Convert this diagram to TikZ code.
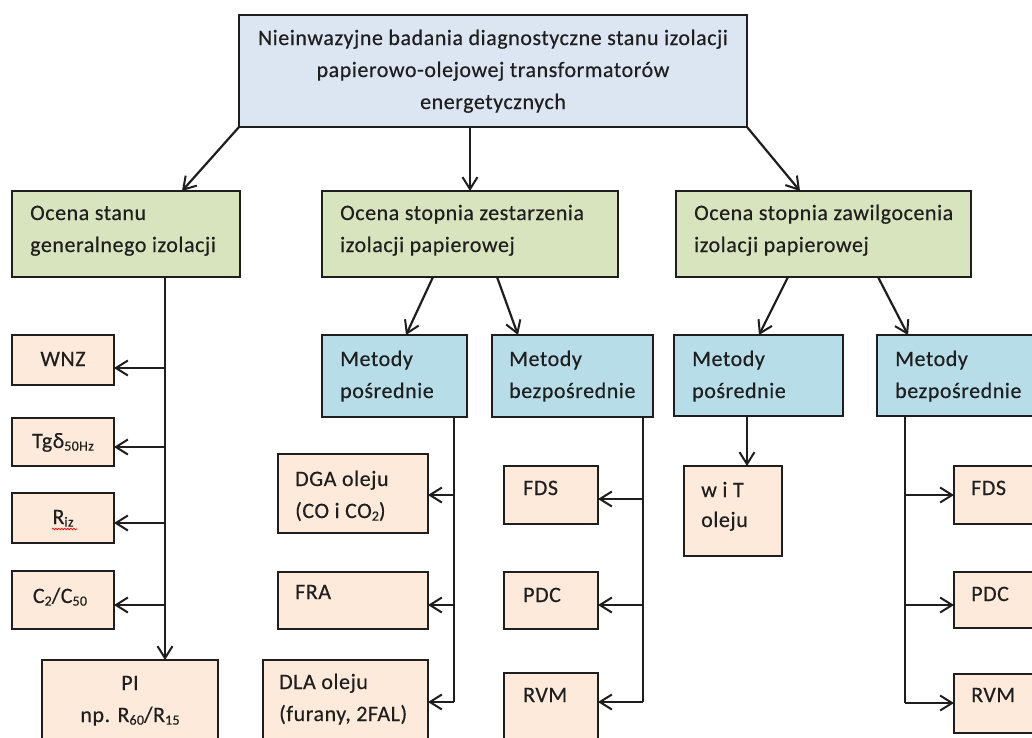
\documentclass[tikz,border=0pt]{standalone}
\usepackage{fontspec}
\setmainfont{Carlito}[LetterSpace=2.5,FakeBold=0.4]
\usetikzlibrary{arrows.meta,calc,decorations.pathmorphing}
\definecolor{topblue}{HTML}{DCE6F2}
\definecolor{cgreen}{HTML}{D7E4BD}
\definecolor{cblue}{HTML}{B7DEE8}
\definecolor{cpeach}{HTML}{FDEADA}
\definecolor{cline}{HTML}{1E1E1E}
\definecolor{ctext}{HTML}{1F1F1F}
\newcommand\dn[1]{\raisebox{-0.25ex}{\fontsize{14}{14}\selectfont #1}}
\begin{document}
\begin{tikzpicture}[x=1pt,y=-1pt,
  box/.style={draw=cline, line width=2.6pt, anchor=north west, inner sep=0pt, outer sep=0pt},
  topbox/.style={box, fill=topblue},
  gbox/.style={box, fill=cgreen},
  bbox/.style={box, fill=cblue},
  pbox/.style={box, fill=cpeach},
  txt/.style={inner sep=0pt, font=\fontsize{22}{32}\selectfont, text=ctext, align=left, anchor=base west},
  ctxt/.style={txt, align=center, anchor=base},
  arr/.style={draw=cline, line width=2.2pt, -{Straight Barb[length=12pt,width=15pt,line width=2pt]}},
  ln/.style={draw=cline, line width=2.2pt}]
\clip (0,0) rectangle (1032,737);
\fill[white] (0,0) rectangle (1032,737);
% boxes
\node[topbox, minimum width=508pt, minimum height=112pt] (top) at (239,15) {};
\node[gbox, minimum width=228pt, minimum height=86pt] (g1) at (12,191) {};
\node[gbox, minimum width=296pt, minimum height=86pt] (g2) at (322,191) {};
\node[gbox, minimum width=295pt, minimum height=86pt] (g3) at (676,191) {};
\node[bbox, minimum width=145pt, minimum height=82pt] (b1) at (322,335) {};
\node[bbox, minimum width=161pt, minimum height=82pt] (b2) at (492,335) {};
\node[bbox, minimum width=169pt, minimum height=81pt] (b3) at (674,335) {};
\node[bbox, minimum width=175pt, minimum height=81pt] (b4) at (877,335) {};
\node[pbox, minimum width=102pt, minimum height=50pt] (wnz) at (12,335) {};
\node[pbox, minimum width=102pt, minimum height=48pt] (tg) at (12,418) {};
\node[pbox, minimum width=102pt, minimum height=50pt] (riz) at (12,493) {};
\node[pbox, minimum width=102pt, minimum height=58pt] (c2) at (12,571) {};
\node[pbox, minimum width=176pt, minimum height=100pt] (pi) at (42,660) {};
\node[pbox, minimum width=150pt, minimum height=79pt] (dga) at (278,454) {};
\node[pbox, minimum width=150pt, minimum height=57pt] (fra) at (278,572) {};
\node[pbox, minimum width=165pt, minimum height=100pt] (dla) at (263,660) {};
\node[pbox, minimum width=94pt, minimum height=58pt] (fds) at (504,466) {};
\node[pbox, minimum width=94pt, minimum height=57pt] (pdc) at (504,572) {};
\node[pbox, minimum width=94pt, minimum height=90pt] (rvm) at (504,673) {};
\node[pbox, minimum width=98pt, minimum height=90pt] (wit) at (684,466) {};
\node[pbox, minimum width=100pt, minimum height=58pt] (fds2) at (954,466) {};
\node[pbox, minimum width=100pt, minimum height=56pt] (pdc2) at (954,572) {};
\node[pbox, minimum width=100pt, minimum height=59pt] (rvm2) at (954,674) {};
% texts (base = last line)
\node[ctxt] (ttop) at (493,109) {Nieinwazyjne badania diagnostyczne stanu izolacji\\papierowo-olejowej transformatorów\\energetycznych};
\node[txt] (tg1) at (30,252) {Ocena stanu\\generalnego izolacji};
\node[txt] (tg2) at (340,252) {Ocena stopnia zestarzenia\\izolacji papierowej};
\node[txt] (tg3) at (694,252) {Ocena stopnia zawilgocenia\\izolacji papierowej};
\node[txt] (tb1) at (340,398) {Metody\\pośrednie};
\node[txt] (tb2) at (509,398) {Metody\\bezpośrednie};
\node[txt] (tb3) at (692,398) {Metody\\pośrednie};
\node[txt] (tb4) at (895,398) {Metody\\bezpośrednie};
\node[ctxt] (twnz) at (63,366) {WNZ};
\node[ctxt] (ttg) at (63,448) {Tgδ\dn{50Hz}};
\node[ctxt] (triz) at (63,524) {R\dn{iz}};
\node[ctxt] (tc2) at (60,603) {C\dn{2}/C\dn{50}};
\node[ctxt] (tpi) at (130,722) {PI\\np. R\dn{60}/R\dn{15}};
\node[txt] (tdga) at (295,518) {DGA oleju\\(CO i CO\dn{2})};
\node[txt] (tfra) at (295,599) {FRA};
\node[txt] (tdla) at (279,721) {DLA oleju\\(furany, 2FAL)};
\node[txt] (tfds) at (523,495) {FDS};
\node[txt] (tpdc) at (523,602) {PDC};
\node[txt] (trvm) at (523,702) {RVM};
\node[txt, font=\fontsize{22}{30}\selectfont] (twit) at (701,527) {w i T\\oleju};
\node[txt] (tfds2) at (971,495) {FDS};
\node[txt] (tpdc2) at (971,601) {PDC};
\node[txt] (trvm2) at (971,702) {RVM};
\draw[red, line width=0.7pt, decorate, decoration={snake, amplitude=0.8pt, segment length=3pt}] (52,529) -- (77,529);
% connectors from top
\draw[arr] (top.south west) -- ($(g1.north west)+(170,0)$);
\draw[arr] (top.south -| g2.north) -- (g2.north);
\draw[arr] (top.south east) -- ($(g3.north west)+(124,0)$);
% left trunk
\coordinate (t1) at (165,0);
\draw[arr] (g1.south -| t1) -- (pi.north -| t1);
\coordinate (a1) at (165,368);
\coordinate (a2) at (165,447);
\coordinate (a3) at (165,523);
\coordinate (a4) at (165,605);
\draw[arr] (a1) -- (a1 -| wnz.east);
\draw[arr] (a2) -- (a2 -| tg.east);
\draw[arr] (a3) -- (a3 -| riz.east);
\draw[arr] (a4) -- (a4 -| c2.east);
% middle
\draw[arr] ($(g2.south west)+(111,0)$) -- ($(b1.north west)+(84,0)$);
\draw[arr] ($(g2.south west)+(175,0)$) -- ($(b2.north west)+(26,0)$);
\coordinate (m1) at (454,495);
\coordinate (m2) at (454,605);
\coordinate (m3) at (454,702);
\draw[ln] (b1.south -| m1) -- (m3);
\draw[arr] (m1) -- (m1 -| dga.east);
\draw[arr] (m2) -- (m2 -| fra.east);
\draw[arr] (m3) -- (m3 -| dla.east);
\coordinate (n1) at (643,499);
\coordinate (n2) at (643,605);
\coordinate (n3) at (643,702);
\draw[ln] (b2.south -| n1) -- (n3);
\draw[arr] (n1) -- (n1 -| fds.east);
\draw[arr] (n2) -- (n2 -| pdc.east);
\draw[arr] (n3) -- (n3 -| rvm.east);
% right
\draw[arr] ($(g3.south west)+(112,0)$) -- ($(b3.north west)+(85,0)$);
\draw[arr] ($(g3.south west)+(202,0)$) -- ($(b4.north west)+(31,0)$);
\coordinate (w0) at (747,0);
\draw[arr] (b3.south -| w0) -- (wit.north -| w0);
\coordinate (r1) at (905,495);
\coordinate (r2) at (905,605);
\coordinate (r3) at (905,703);
\draw[ln] (b4.south -| r1) -- (r3);
\draw[arr] (r1) -- (r1 -| fds2.west);
\draw[arr] (r2) -- (r2 -| pdc2.west);
\draw[arr] (r3) -- (r3 -| rvm2.west);
\end{tikzpicture}
\end{document}
